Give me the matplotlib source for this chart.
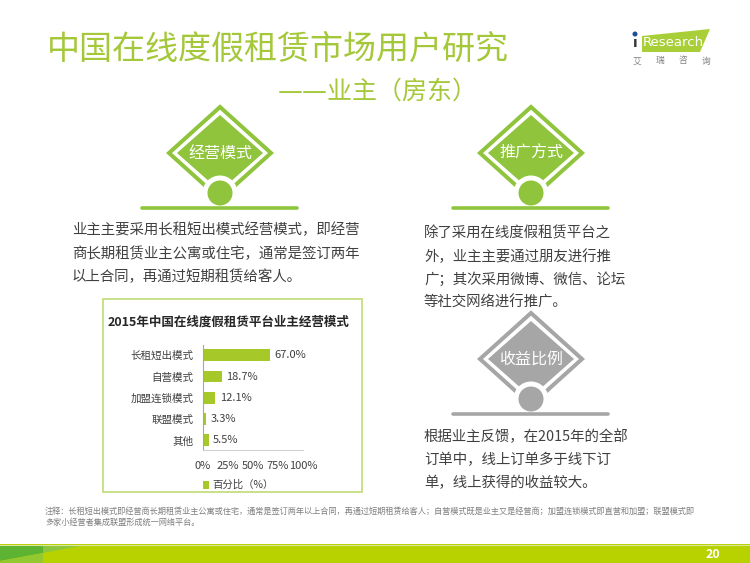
import matplotlib
matplotlib.use("Agg")
import matplotlib.pyplot as plt
from matplotlib.patches import Polygon, Circle, Rectangle
import numpy as np

plt.rcParams['font.family'] = ['Noto Sans CJK SC', 'DejaVu Sans']

# data
categories = ['长租短出模式', '自营模式', '加盟连锁模式', '联盟模式', '其他']
values = [67.0, 18.7, 12.1, 3.3, 5.5]
x_ticks = [0, 25, 50, 75, 100]
x_tick_labels = ['0%', '25%', '50%', '75%', '100%']

title = '中国在线度假租赁市场用户研究'
subtitle = '——业主（房东）'
chart_title = '2015年中国在线度假租赁平台业主经营模式'
legend_label = '百分比（%）'
icon_labels = ['经营模式', '推广方式', '收益比例']
text_mode = ['业主主要采用长租短出模式经营模式，即经营',
             '商长期租赁业主公寓或住宅，通常是签订两年',
             '以上合同，再通过短期租赁给客人。']
text_promo = ['除了采用在线度假租赁平台之',
              '外，业主主要通过朋友进行推',
              '广；其次采用微博、微信、论坛',
              '等社交网络进行推广。']
text_income = ['根据业主反馈，在2015年的全部',
               '订单中，线上订单多于线下订',
               '单，线上获得的收益较大。']
note = ['注释：长租短出模式即经营商长期租赁业主公寓或住宅，通常是签订两年以上合同，再通过短期租赁给客人；自营模式既是业主又是经营商；加盟连锁模式即直营和加盟；联盟模式即',
        '多家小经营者集成联盟形成统一网络平台。']
logo_cn = ['艾', '瑞', '咨', '询']
page_no = '20'

GREEN = '#8fc43c'
TITLE_GREEN = '#a4c83a'
BAR_GREEN = '#a6c828'
GREY_ICON = '#a6a6a6'
TEXT = '#404040'

fig = plt.figure(figsize=(7.5, 5.63), dpi=100)
ax = fig.add_axes([0, 0, 1, 1])
ax.set_xlim(0, 750)
ax.set_ylim(563, 0)
ax.axis('off')

# header
ax.text(47, 49, title, fontsize=23.8, color=TITLE_GREEN, va='center', ha='left')
ax.text(278, 92, subtitle, fontsize=18, color=TITLE_GREEN, va='center', ha='left',
        family=['DejaVu Sans', 'Noto Sans CJK SC'])

# logo
ax.add_patch(Polygon([(642, 36), (710, 29), (700, 52), (642, 52)], closed=True,
                     facecolor='#a8cf38', edgecolor='none'))
ax.text(643, 42, 'Research', fontsize=9.5, color='white', va='center', ha='left',
        family='DejaVu Sans')
ax.text(635, 43, 'ı', fontsize=10, color='#333333', va='center', ha='center',
        family='DejaVu Sans', fontweight='bold')
ax.add_patch(Circle((635, 34), 1.8, color='#1f4e9b'))
for i, ch in enumerate(logo_cn):
    ax.text(637 + i * 23, 61, ch, fontsize=6.3, color='#808080', va='center', ha='center')


def icon(cx, cy, label, color):
    # outer outline diamond, inner filled diamond, circle base and line
    ax.add_patch(Polygon([(cx, cy - 46), (cx + 51, cy), (cx, cy + 46), (cx - 51, cy)],
                         closed=True, facecolor='none', edgecolor=color, lw=2.9, zorder=2))
    ax.add_patch(Polygon([(cx, cy - 38), (cx + 43, cy), (cx, cy + 38), (cx - 43, cy)],
                         closed=True, facecolor=color, edgecolor='none', zorder=3))
    ax.add_patch(Circle((cx, cy + 40), 17.5, facecolor='white', edgecolor='none', zorder=4))
    ax.plot([cx - 78, cx + 77], [cy + 55, cy + 55], color=color, lw=2.6,
            solid_capstyle='round', zorder=5)
    ax.add_patch(Circle((cx, cy + 40), 12.5, facecolor=color, edgecolor='none', zorder=6))
    ax.text(cx, cy, label, fontsize=11.5, color='white', va='center', ha='center', zorder=7)


icon(220, 153, icon_labels[0], GREEN)
icon(531, 153, icon_labels[1], GREEN)
icon(531, 359, icon_labels[2], GREY_ICON)

for i, line in enumerate(text_mode):
    ax.text(72, 230 + i * 23.5, line, fontsize=10.4, color=TEXT, va='center', ha='left')
for i, line in enumerate(text_promo):
    ax.text(424, 233 + i * 23.3, line, fontsize=10.4, color=TEXT, va='center', ha='left')
for i, line in enumerate(text_income):
    ax.text(424, 437 + i * 23, line, fontsize=10.4, color=TEXT, va='center', ha='left')

# chart box
ax.add_patch(Rectangle((103, 299), 259, 193, facecolor='none', edgecolor='#c5de80', lw=1.3))
ax.text(108, 322, chart_title, fontsize=9, fontweight='bold', color='#262626',
        va='center', ha='left')
ax.add_patch(Rectangle((203, 481), 6, 8, facecolor=BAR_GREEN, edgecolor='none'))
ax.text(212, 485, legend_label, fontsize=7.5, color=TEXT, va='center', ha='left')

# bar chart
bx = fig.add_axes([203 / 750, (563 - 450) / 563, 100 / 750, 105 / 563])
ypos = np.arange(len(categories))
bx.barh(ypos, values, height=0.56, color=BAR_GREEN)
for y, v in zip(ypos, values):
    bx.text(v + 4.5, y, f'{v:.1f}%', fontsize=8, color=TEXT, va='center', ha='left')
bx.set_xlim(0, 100)
bx.set_ylim(4.45, -0.48)
bx.set_yticks(ypos)
bx.set_yticklabels(categories, fontsize=7.6, color=TEXT)
bx.set_xticks(x_ticks)
bx.set_xticklabels(x_tick_labels, fontsize=8, color=TEXT)
bx.tick_params(axis='both', length=0)
bx.tick_params(axis='y', pad=7)
bx.tick_params(axis='x', pad=8)
bx.patch.set_alpha(0)
for s in ['top', 'right']:
    bx.spines[s].set_visible(False)
bx.spines['left'].set_color('#a6a6a6')
bx.spines['bottom'].set_color('#d0d0d0')
bx.spines['left'].set_linewidth(0.8)
bx.spines['bottom'].set_linewidth(0.8)

# footnote
ax.text(45, 511, note[0], fontsize=5.9, color='#7f7f7f', va='center', ha='left')
ax.text(45, 522, note[1], fontsize=5.9, color='#7f7f7f', va='center', ha='left')

# bottom band
ax.add_patch(Rectangle((0, 544), 750, 19, facecolor='#b8d200', edgecolor='none'))
ax.plot([0, 750], [544.5, 544.5], color='#d8e59a', lw=0.8)
ax.add_patch(Polygon([(43, 545), (85, 545), (43, 553)], closed=True,
                     facecolor='#8cc63f', edgecolor='none'))
ax.add_patch(Polygon([(0, 545), (43, 545), (43, 553), (0, 561)], closed=True,
                     facecolor='#5db332', edgecolor='none'))
ax.add_patch(Polygon([(0, 561), (43, 553), (43, 563), (0, 563)], closed=True,
                     facecolor='#93c830', edgecolor='none'))
ax.text(713, 554, page_no, fontsize=9, fontweight='bold', color='white',
        va='center', ha='center')

fig.savefig('out.png', dpi=100)
